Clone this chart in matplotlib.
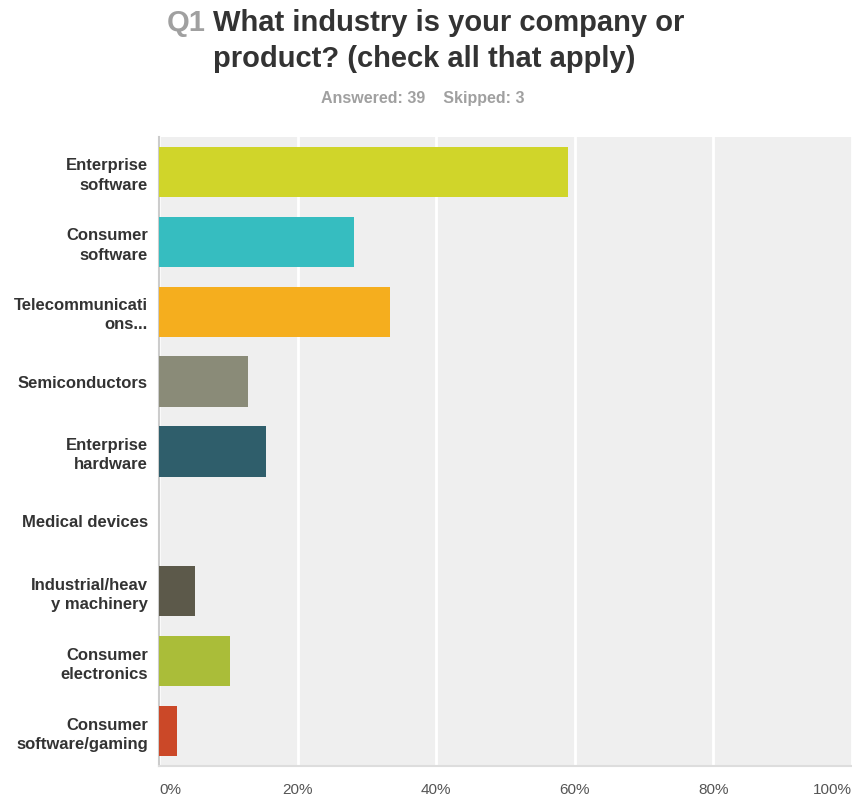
import matplotlib
matplotlib.use('agg')
import matplotlib.pyplot as plt
import numpy as np

plt.rcParams['font.family'] = ['Liberation Sans', 'DejaVu Sans']

categories = ['Enterprise\nsoftware', 'Consumer\nsoftware', 'Telecommunicati\nons...',
              'Semiconductors', 'Enterprise\nhardware', 'Medical devices',
              'Industrial/heav\ny machinery', 'Consumer\nelectronics',
              'Consumer\nsoftware/gaming']
percents = [58.97, 28.21, 33.33, 12.82, 15.38, 0.0, 5.13, 10.26, 2.56]
colors = ['#D0D52A', '#36BDC0', '#F5AE1E', '#8A8B78', '#2F5E6B',
          '#9E9E9E', '#5C594A', '#AABD39', '#CB4828']
ticks = [0, 20, 40, 60, 80, 100]
tick_labels = ['0%', '20%', '40%', '60%', '80%', '100%']

fig = plt.figure(figsize=(8.53, 8.0), dpi=100)
ax = fig.add_axes([159 / 853, 34 / 800, 693 / 853, 629 / 800])
ax.set_facecolor('#EFEFEF')

y = np.arange(len(categories))
ax.barh(y, percents, height=0.72, color=colors, linewidth=0, zorder=3)

ax.set_xlim(0, 100)
ax.set_ylim(len(categories) - 0.5, -0.5)
ax.set_xticks(ticks)
ax.set_xticklabels(tick_labels, fontsize=11, color='#555555')
for lbl, ha in zip(ax.get_xticklabels(), ['left', 'center', 'center', 'center', 'center', 'right']):
    lbl.set_horizontalalignment(ha)
ax.set_yticks(y)
ax.set_yticklabels(categories, fontsize=12, fontweight='bold', color='#333333',
                   linespacing=1.35)
ax.tick_params(axis='both', length=0)
ax.tick_params(axis='x', pad=12)
ax.tick_params(axis='y', pad=8)

ax.grid(axis='x', color='white', linewidth=2, zorder=1)
for s in ['top', 'right']:
    ax.spines[s].set_visible(False)
ax.spines['left'].set_color('#CCCCCC')
ax.spines['bottom'].set_color('#DDDDDD')
ax.spines['left'].set_linewidth(1.5)
ax.spines['bottom'].set_linewidth(1.5)

fig.text(167 / 853, 1 - 23 / 800, 'Q1', fontsize=21, fontweight='bold',
         color='#A0A0A0', va='center', ha='left')
fig.text(213 / 853, 1 - 41 / 800,
         'What industry is your company or\nproduct? (check all that apply)',
         fontsize=21, fontweight='bold', color='#333333', va='center',
         ha='left', linespacing=1.38)
fig.text(423 / 853, 1 - 99 / 800, 'Answered: 39    Skipped: 3', fontsize=11.5,
         fontweight='bold', color='#A0A0A0', va='center', ha='center')

fig.savefig('out.png', dpi=100, facecolor='white')
